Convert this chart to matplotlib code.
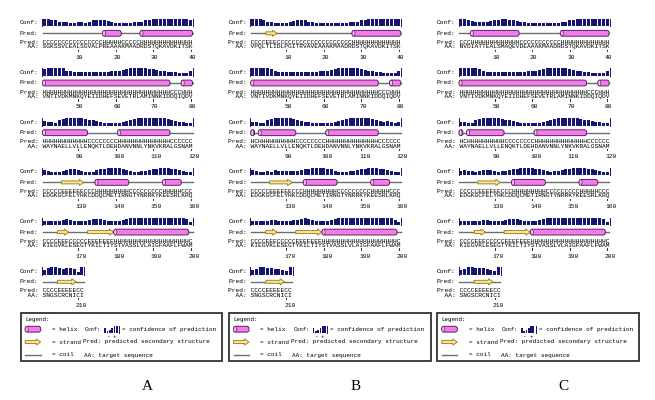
import numpy as np
import matplotlib.pyplot as plt
from matplotlib.patches import FancyBboxPatch, Ellipse, Polygon, Rectangle

# --- data: three PSIPRED predictions (A, B, C), rows of 40 residues ---
row_start = [1, 41, 81, 121, 161, 201]

aa_first = ["SGKSSVLEAL" "SGVALPREAA" "AKMAADRDST" "QKAVDKITSK",
            "VPQLTLIDLP" "GITRVAVEAA" "AKMAADRDST" "QKAVDKITSK",
            "NVDIATTEAL" "SMAQEVDEAA" "AKMAADRDST" "QKAVDKITSK"]
aa_rest = ["VNTIVDKMNK" "QYEIIDHEFS" "EVETRLAMIN" "NKIDDQIQDV",
           "WAYNAELLVL" "LENQKTLDEH" "DANVNNLYNK" "VKRALGSNAM",
           "EDGKGCFELY" "HKCDDQCMET" "IRNGTYNRRK" "YKEESRLKRQ",
           "KIEGVKLESE" "GTYKILTIYS" "TVASSLVLAI" "GFAAFLFWAM",
           "SNGSCRCNIC" "I"]

pred_a = ["CCCCCCCCCC" "CCCCCCHHHH" "HCCCCCHHHH" "HHHHHHHHHH",
          "HHHHHHHHHH" "HHHHHHHHHH" "HHHHHHHHHH" "HHHHCCCHHH",
          "HHHHHHHHHH" "HHCCCCCCCC" "HHHHHHHHHH" "HHHHCCCCCC",
          "CCCCCEEEEE" "ECCCHHHHHH" "HHHCCCCCCC" "CCHHHHHCCC",
          "CCCCEEECCC" "CCEEEEEEEH" "HHHHHHHHHH" "HHHHHHHHHC",
          "CCCCEEEEEC" "C"]
pred_b = ["CCCCEEECCC" "CCCCCCCCCC" "CCCCCCCHHH" "HHHHHHHHHH",
          "HHHHHHHHHH" "HHHHHHHHHH" "HHHHHHHHHH" "HHHHCCCHHH",
          "HCHHHHHHHH" "HHCCCCCCCC" "HHHHHHHHHH" "HHHHCCCCCC",
          "CCCCCEEEEE" "ECCCHHHHHH" "HHHCCCCCCC" "CCHHHHHCCC",
          "CCCCEEECCC" "CCEEEEEEEH" "HHHHHHHHHH" "HHHHHHHHHC",
          "CCCCEEEEEC" "C"]
pred_c = ["CCCHHHHHHH" "HHHHHHCCCC" "CCCCCCCHHH" "HHHHHHHHHH",
          "HHHHHHHHHH" "HHHHHHHHHH" "HHHHHHHHHH" "HHHHCCCHHH",
          "HCHHHHHHHH" "HHCCCCCCCC" "HHHHHHHHHH" "HHHHCCCCCC",
          "CCCCCEEEEE" "ECCCHHHHHH" "HHHCCCCCCC" "CCHHHHHCCC",
          "CCCCEEECCC" "CCEEEEEEEH" "HHHHHHHHHH" "HHHHHHHHHC",
          "CCCCEEEEEC" "C"]

conf_a = ["9987444334" "4357887643" "3333445789" "9999999998",
          "8999995544" "4444444455" "5789999988" "7654443336",
          "5443789999" "9876543333" "3456899999" "9998654432",
          "6544456776" "5444678999" "9865445567" "8999876544",
          "5444567654" "4567776544" "5678999999" "9999999973",
          "5899878873" "9"]
conf_b = ["9998543333" "4678754333" "3333334547" "8999999999",
          "9999985444" "4444444455" "6789999998" "7654433336",
          "4433789999" "9875443333" "3345789999" "9987545434",
          "6544546555" "5556789999" "8754445567" "8999876544",
          "5444566554" "4667876544" "5678999999" "9999999963",
          "5799887754" "9"]
conf_c = ["9986444567" "8998765433" "3333333547" "8999999999",
          "9999985444" "4444444455" "6789999998" "7654433335",
          "4433789999" "9876543333" "3345789999" "9987654433",
          "5655456665" "4556789999" "8765455678" "9999876543",
          "5444456654" "4567776544" "5678999999" "9999999973",
          "5799888764" "9"]

panel_labels = ["A", "B", "C"]
legend_conf = [6, 1, 3, 5, 8, 9]

NAVY = '#16166e'
PINK = '#f27cee'
PINK_L = '#fbb8f7'
PURPLE = '#5e2260'
YELLOW = '#fbe48a'
GOLD = '#94781e'
COIL = '#6e6e6e'
TXT = '#000000'
MONO = 'Liberation Mono'

CW = 3.75
panel_x = [20, 228.3, 436.6]
row_y = [22.7, 72.4, 122.1, 171.8, 221.5, 271.2]


def helix(ax, xa, xb, yc, h=5.8):
    r = min(2.2, (xb - xa) / 2)
    ax.add_patch(FancyBboxPatch((xa, yc - h / 2), xb - xa, h,
                                boxstyle="round,pad=0,rounding_size=%.2f" % r,
                                fc=PINK, ec=PURPLE, lw=0.7, zorder=3))
    ax.add_patch(Ellipse((xa + min(1.5, (xb - xa) / 2), yc), min(3.0, xb - xa), h,
                         fc=PINK_L, ec=PURPLE, lw=0.5, zorder=4))


def strand(ax, xa, xb, yc):
    hl = min(4.5, (xb - xa) * 0.5)
    bh, hh = 1.5, 3.1
    pts = [(xa, yc - bh), (xb - hl, yc - bh), (xb - hl, yc - hh), (xb, yc),
           (xb - hl, yc + hh), (xb - hl, yc + bh), (xa, yc + bh)]
    ax.add_patch(Polygon(pts, closed=True, fc=YELLOW, ec=GOLD, lw=0.6, zorder=3))


def runs(s):
    out = []
    i = 0
    while i < len(s):
        j = i
        while j < len(s) and s[j] == s[i]:
            j += 1
        out.append((s[i], i, j))
        i = j
    return out


def mono(x, y, s, size=4.5, **kw):
    ax.text(x, y, s, family=MONO, fontsize=size, color=TXT, va='center', **kw)


fig = plt.figure(figsize=(6.55, 4.0), dpi=100)
ax = fig.add_axes([0, 0, 1, 1])
ax.set_xlim(0, 655)
ax.set_ylim(400, 0)
ax.axis('off')

for p, (pred, conf) in enumerate(zip([pred_a, pred_b, pred_c], [conf_a, conf_b, conf_c])):
    x0 = panel_x[p]
    xs = x0 + 6 * CW
    aa_rows = [aa_first[p]] + aa_rest
    for k in range(6):
        y = row_y[k]
        seq = aa_rows[k]
        n = len(seq)
        cx = xs + (np.arange(n) + 0.5) * CW
        xe = xs + n * CW

        # confidence bars
        mono(x0, y, "Conf:")
        c = np.array([int(v) for v in conf[k]])
        ax.bar(cx, -(c + 1) / 10 * 7.4, bottom=y + 3.5, width=CW * 0.8,
               color=NAVY, lw=0)
        ax.plot([xs - 0.6, xs - 0.6], [y + 3.5, y - 4.0], color=NAVY, lw=0.7)
        ax.plot([xe + 0.6, xe + 0.6], [y + 3.5, y - 4.0], color=NAVY, lw=0.7)

        # cartoon
        yc = y + 10.6
        mono(x0, yc, "Pred:")
        ax.plot([xs, xe], [yc, yc], color=COIL, lw=1.0, zorder=2)
        for ss, i, j in runs(pred[k]):
            xa, xb = xs + i * CW, xs + j * CW
            if ss == 'H':
                helix(ax, xa, xb, yc)
            elif ss == 'E':
                strand(ax, xa, xb, yc)

        # text rows
        mono(x0, y + 19.6, "Pred: " + pred[k])
        mono(x0, y + 24.0, "  AA: " + seq)

        # numbering
        for i in range(n):
            num = row_start[k] + i
            if num % 10 == 0:
                ax.plot([cx[i], cx[i]], [y + 26.8, y + 28.2], color=TXT, lw=0.6)
                mono(cx[i] - 2.2, y + 34.5, str(num), ha='left')

    # legend box
    bx = x0 + 0.7
    ax.add_patch(Rectangle((bx, 313), 201.5, 48, fill=False, ec='#404040', lw=1.4))
    mono(bx + 4.5, 319, "Legend:", size=4.2)
    helix(ax, bx + 4.5, bx + 20, 329.2)
    strand(ax, bx + 4.5, bx + 20, 342)
    ax.plot([bx + 4.5, bx + 20], [355, 355], color=COIL, lw=1.0)
    mono(bx + 31.3, 329.2, "= helix", size=4.3)
    mono(bx + 31.3, 342, "= strand", size=4.3)
    mono(bx + 31.3, 355, "= coil", size=4.3)
    mono(bx + 64.5, 329.2, "Conf:", size=4.0)
    lc = np.array(legend_conf)
    lx = bx + 84.5 + np.arange(len(lc)) * 2.3
    ax.bar(lx, -(lc + 1) / 10 * 7.0, bottom=332.5, width=1.7, color=NAVY, lw=0)
    ax.plot([lx[-1] + 2.2, lx[-1] + 2.2], [332.5, 325.5], color=NAVY, lw=0.7)
    mono(lx[1], 336.5, "-", size=4.3, ha='center')
    mono(lx[4], 336.5, "+", size=4.3, ha='center')
    mono(bx + 101.5, 329.2, "= confidence of prediction", size=4.3)
    mono(bx + 62.3, 342, "Pred: predicted secondary structure", size=4.3)
    mono(bx + 63.3, 355, "AA: target sequence", size=4.3)

    ax.text(x0 + 127, 386, panel_labels[p], family='Liberation Serif', fontsize=11,
            color=TXT, ha='center', va='center')

fig.savefig('out.png', dpi=100)
